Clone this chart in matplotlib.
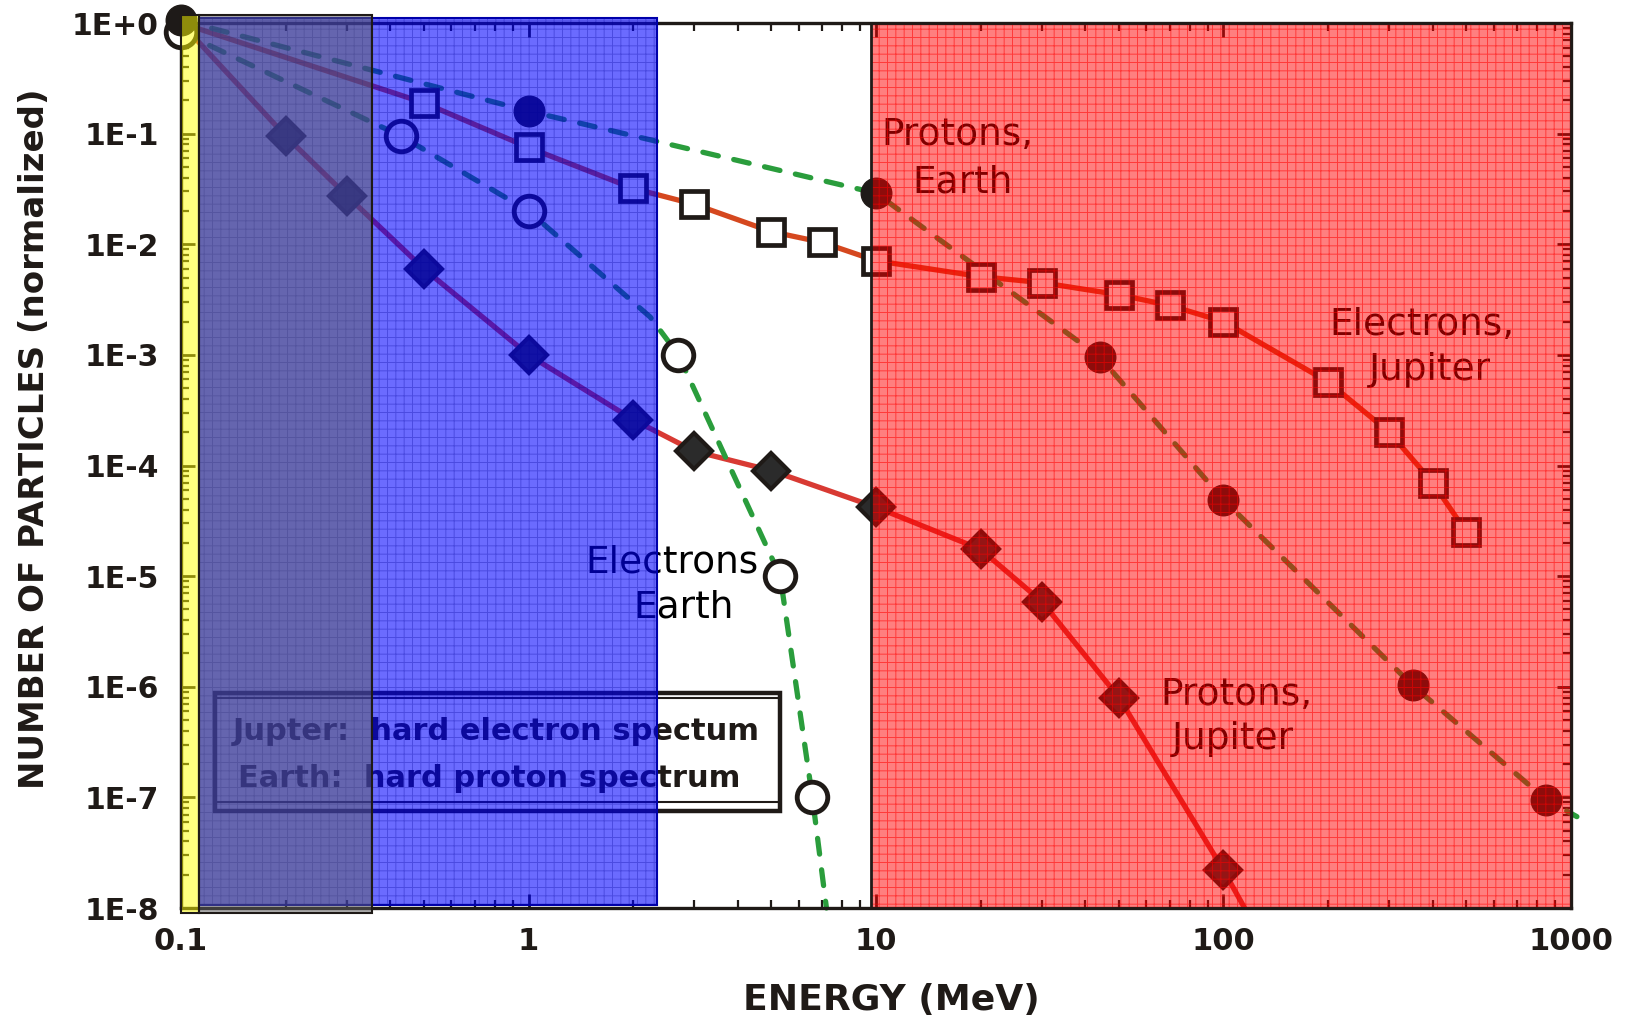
import matplotlib
matplotlib.use("Agg")
import matplotlib.pyplot as plt
from matplotlib.patches import Rectangle
from matplotlib.ticker import LogLocator, NullFormatter


# ─── DATA ───

# electrons, Jupiter (open squares, solid line)
ej_x = [0.1, 0.5, 1, 2, 3, 5, 7, 10, 20, 30, 50, 70, 100, 200, 300, 400, 500]
ej_y = [1.0, 0.19, 0.075, 0.032, 0.023, 0.013, 0.0104, 0.0071, 0.0051, 0.0045,
        0.0035, 0.0028, 0.0020, 5.7e-4, 2.0e-4, 7.0e-5, 2.5e-5]

# protons, Jupiter (diamonds, solid line)
pj_x = [0.1, 0.2, 0.3, 0.5, 1, 2, 3, 5, 10, 20, 30, 50, 100, 115]
pj_y = [1.0, 0.095, 0.0275, 0.006, 0.001, 2.6e-4, 1.35e-4, 9.0e-5, 4.2e-5,
        1.75e-5, 5.9e-6, 8.0e-7, 2.2e-8, 1.0e-8]
pj_mark = slice(1, 13)

# electrons, Earth (open circles, dashed line)
ee_x = [0.1, 0.43, 1, 2.24, 2.7, 5.3, 6.56, 7.2]
ee_y = [0.83, 0.095, 0.02, 2.2e-3, 1.0e-3, 1.0e-5, 1.0e-7, 1.0e-8]
ee_mark = [0, 1, 2, 4, 5, 6]

# protons, Earth (filled circles, dashed line)
pe_x = [0.1, 1, 10, 44, 100, 350, 850, 1040]
pe_y = [1.06, 0.16, 0.029, 9.6e-4, 4.9e-5, 1.03e-6, 9.5e-8, 6.7e-8]
pe_mark = slice(0, 7)

y_ticks = [1e0, 1e-1, 1e-2, 1e-3, 1e-4, 1e-5, 1e-6, 1e-7, 1e-8]
y_labels = ["1E+0", "1E-1", "1E-2", "1E-3", "1E-4", "1E-5", "1E-6", "1E-7", "1E-8"]
x_ticks = [0.1, 1, 10, 100, 1000]
x_labels = ["0.1", "1", "10", "100", "1000"]


# ─── STYLE ───

RED_SQ = "#d5481f"
RED_DI = "#d83a33"
GREEN = "#2a9d3c"
EDGE = "#1f1a17"
DASH = (0, (3.0, 3.0))

plt.rcParams["font.family"] = ["DejaVu Sans"]
plt.rcParams["hatch.linewidth"] = 0.7

fig = plt.figure(figsize=(16.31, 10.19), dpi=100)
ax = fig.add_axes([0.111, 0.1089, 0.8522, 0.8685])
ax.set_xscale("log")
ax.set_yscale("log")
ax.set_xlim(0.1, 1000)
ax.set_ylim(1e-8, 1)


# ─── CURVES ───

ax.plot(ej_x, ej_y, color=RED_SQ, lw=3.8, zorder=2)
ax.plot(ej_x[1:], ej_y[1:], ls="none", marker="s", ms=19, mew=3.4,
        mfc="white", mec=EDGE, zorder=3)

ax.plot(pj_x, pj_y, color=RED_DI, lw=3.8, zorder=2)
ax.plot(pj_x[pj_mark], pj_y[pj_mark], ls="none", marker="D", ms=18.5, mew=3,
        mfc="#2b2b2b", mec=EDGE, zorder=3)

ax.plot(ee_x, ee_y, color=GREEN, lw=3.8, ls=DASH,
        dash_capstyle="round", zorder=2, clip_on=False)
ax.plot([ee_x[i] for i in ee_mark], [ee_y[i] for i in ee_mark], ls="none",
        marker="o", ms=22, mew=3.5, mfc="white", mec=EDGE, zorder=3, clip_on=False)

ax.plot(pe_x, pe_y, color=GREEN, lw=3.8, ls=DASH,
        dash_capstyle="round", zorder=2, clip_on=False)
ax.plot(pe_x[pe_mark], pe_y[pe_mark], ls="none", marker="o", ms=22, mew=1,
        mfc="#1e1a18", mec=EDGE, zorder=3, clip_on=False)


# ─── LABELS ON THE PLOT ───

def label(x, y, s):
    ax.text(x, y, s, fontsize=27, ha="center", va="baseline", color="black", zorder=3.5)

label(17.1, 0.0788, "Protons,")
label(17.8, 0.0296, "Earth")
label(372, 1.51e-3, "Electrons,")
label(393, 5.9e-4, "Jupiter")
label(108.6, 6.8e-7, "Protons,")
label(106.5, 2.73e-7, "Jupiter")
label(2.59, 1.09e-5, "Electrons")
label(2.80, 4.26e-6, "Earth")

# double framed note box
ax.add_patch(Rectangle((0.1252, 7.5e-8), 5.29 - 0.1252, 8.75e-7 - 7.5e-8,
                       facecolor="white", edgecolor=EDGE, lw=3.2, zorder=4))
ax.add_patch(Rectangle((0.1252, 9.05e-8), 5.29 - 0.1252, 7.88e-7 - 9.05e-8,
                       facecolor="none", edgecolor=EDGE, lw=1.5, zorder=4))
ax.text(0.1411, 3.29e-7, "Jupter:  hard electron spectum", fontsize=22,
        fontweight="bold", color=EDGE, zorder=4.2)
ax.text(0.146, 1.24e-7, "Earth:  hard proton spectrum", fontsize=22,
        fontweight="bold", color=EDGE, zorder=4.2)


# ─── SHADED BANDS (drawn over the curves) ───

def band(x0, x1, y0, y1, face, alpha, hatch_col, edge, lw, z):
    w, h = x1 - x0, y1 - y0
    ax.add_patch(Rectangle((x0, y0), w, h, facecolor=face, alpha=alpha,
                           edgecolor="none", zorder=z, clip_on=False))
    if hatch_col is not None:
        ax.add_patch(Rectangle((x0, y0), w, h, facecolor="none", edgecolor=hatch_col,
                               hatch="++", lw=0, zorder=z, clip_on=False))
    ax.add_patch(Rectangle((x0, y0), w, h, facecolor="none", edgecolor=edge,
                           lw=lw, zorder=z + 0.1, clip_on=False))

band(0.1, 0.113, 9.1e-9, 1.18, "#ffff00", 0.5, None, EDGE, 1.5, 5)
band(0.113, 2.34, 1.06e-8, 1.11, "#0000ff", 0.58, (0.0, 0.0, 0.6, 0.3), "#0000aa", 1.5, 6)
band(0.113, 0.355, 9.1e-9, 1.18, "#606060", 0.5, None, EDGE, 1.5, 7)
band(9.7, 1000, 1e-8, 1, "#ff0000", 0.5, (1.0, 0.0, 0.0, 0.55), EDGE, 2, 6)


# ─── AXES ───

for sp in ax.spines.values():
    sp.set_linewidth(2.4)
    sp.set_color(EDGE)

ax.set_xticks(x_ticks)
ax.set_xticklabels(x_labels)
ax.set_yticks(y_ticks)
ax.set_yticklabels(y_labels)
ax.xaxis.set_minor_locator(LogLocator(base=10, subs=range(2, 10), numticks=20))
ax.yaxis.set_minor_locator(LogLocator(base=10, subs=range(2, 10), numticks=20))
ax.xaxis.set_minor_formatter(NullFormatter())
ax.yaxis.set_minor_formatter(NullFormatter())

ax.tick_params(which="both", direction="in", top=True, right=True, colors=EDGE)
ax.tick_params(which="major", length=10, width=2)
ax.tick_params(which="minor", length=5.5, width=1.6)
ax.tick_params(axis="x", which="major", pad=14, labelsize=22)
ax.tick_params(axis="y", which="major", pad=16, labelsize=21.5)
for t in ax.get_xticklabels() + ax.get_yticklabels():
    t.set_fontweight("bold")

fig.text(891 / 1631, 1 - 1010 / 1019, "ENERGY (MeV)", fontsize=26, fontweight="bold",
         ha="center", va="baseline", color=EDGE)
fig.text(44 / 1631, 1 - 439 / 1019, "NUMBER OF PARTICLES (normalized)", fontsize=24.5,
         fontweight="bold", rotation=90, rotation_mode="anchor",
         ha="center", va="baseline", color=EDGE)

fig.savefig("out.png", dpi=100)
